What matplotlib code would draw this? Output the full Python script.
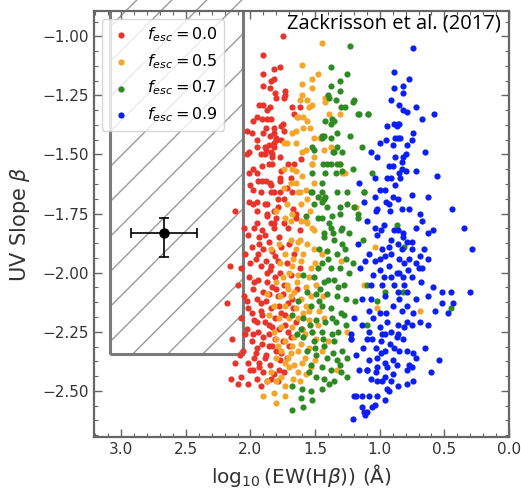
import matplotlib
matplotlib.use("Agg")
import matplotlib.pyplot as plt
import numpy as np
from matplotlib.patches import Rectangle
from matplotlib.ticker import MultipleLocator, AutoMinorLocator

# ---------------- data ----------------
red_pts = [
    (1.75,-1.00),(1.90,-1.08),(1.82,-1.14),(1.77,-1.13),(1.90,-1.16),(1.82,-1.18),(1.90,-1.21),
    (1.85,-1.22),(1.81,-1.24),(1.73,-1.23),(1.73,-1.25),(1.80,-1.26),(1.93,-1.29),(1.90,-1.29),
    (1.85,-1.30),(1.87,-1.31),(1.68,-1.30),(1.62,-1.30),(1.95,-1.34),(1.87,-1.35),(1.98,-1.36),
    (1.84,-1.35),(1.75,-1.37),(1.66,-1.33),(1.84,-1.19),(1.74,-1.26),(1.91,-1.35),(1.88,-1.39),
    (1.82,-1.39),(1.76,-1.38),(1.74,-1.40),(1.80,-1.43),(1.76,-1.44),(1.89,-1.47),(1.82,-1.47),
    (1.83,-1.50),(1.77,-1.51),(1.71,-1.54),(1.83,-1.54),(1.91,-1.61),(1.85,-1.62),(1.77,-1.60),
    (1.72,-1.64),(1.82,-1.66),(1.89,-1.71),(1.79,-1.72),(1.74,-1.69),(1.65,-1.75),(1.87,-1.76),
    (1.82,-1.79),(1.71,-1.81),
    (2.01,-1.49),(2.03,-1.50),(1.92,-1.50),(1.89,-1.50),(1.83,-1.51),(1.88,-1.48),(1.84,-1.49),
    (1.82,-1.45),(1.86,-1.46),(1.80,-1.44),(1.95,-1.44),(1.90,-1.41),(1.82,-1.41),(1.99,-1.41),
    (2.03,-1.40),(1.86,-1.54),(1.98,-1.56),(2.01,-1.58),(1.95,-1.58),(1.76,-1.57),(1.66,-1.54),
    (1.61,-1.52),(1.94,-1.61),(1.88,-1.61),(1.77,-1.61),(2.00,-1.63),(1.84,-1.63),(1.92,-1.66),
    (1.84,-1.66),(1.77,-1.66),(1.68,-1.66),(2.01,-1.70),(1.95,-1.70),(1.98,-1.71),(1.87,-1.71),
    (1.67,-1.73),(1.82,-1.74),(1.95,-1.74),(1.87,-1.75),(1.80,-1.77),(1.84,-1.79),(1.95,-1.79),
    (1.97,-1.81),(1.91,-1.82),(1.82,-1.81),(1.74,-1.79),(1.65,-1.77),(2.12,-1.74),(1.62,-1.82),
    (2.05,-1.81),
    (2.02,-1.84),(1.93,-1.85),(1.86,-1.87),(1.78,-1.85),(1.70,-1.88),(1.99,-1.89),(1.90,-1.90),
    (1.83,-1.91),(1.76,-1.89),(1.66,-1.92),(2.04,-1.92),(1.96,-1.94),(1.88,-1.95),(1.81,-1.93),
    (1.72,-1.96),(2.16,-1.97),(2.07,-1.98),(1.92,-1.97),(1.85,-1.99),(1.77,-2.00),(1.69,-2.01),
    (2.01,-2.02),(1.94,-2.03),(1.87,-2.04),(1.81,-2.02),(1.74,-2.05),(2.10,-2.05),(1.98,-2.07),
    (1.90,-2.08),(1.83,-2.06),(1.64,-2.07),(2.05,-2.10),(1.95,-2.11),(1.88,-2.12),(1.79,-2.10),
    (1.71,-2.13),(2.18,-2.13),(2.02,-2.15),(1.92,-2.16),(1.84,-2.15),(1.76,-2.17),(1.67,-2.15),
    (2.07,-2.19),(1.97,-2.20),(1.89,-2.21),(1.81,-2.19),(1.73,-2.22),(2.03,-2.24),(1.94,-2.25),
    (1.86,-2.26),(1.78,-2.24),(1.69,-2.27),(2.14,-2.28),(1.99,-2.29),(1.91,-2.30),(1.83,-2.31),
    (1.75,-2.29),(2.06,-2.33),(1.96,-2.34),(1.88,-2.35),(1.80,-2.33),(1.72,-2.36),(2.02,-2.38),
    (1.93,-2.38),(1.85,-2.39),(1.77,-2.37),(2.12,-2.38),(1.98,-2.41),(1.90,-2.42),(1.82,-2.43),
    (2.07,-2.44),(1.95,-2.45),(1.87,-2.46),(2.15,-2.45),(2.02,-2.47),(1.92,-2.48),(2.10,-2.47),
    (1.79,-2.46),(1.97,-2.36),(1.86,-2.22),(1.75,-2.09),(1.99,-2.17),(1.90,-2.27),(2.00,-1.96),
    (1.62,-1.98),(1.70,-2.31),(1.65,-2.21),(1.78,-2.41),(1.95,-2.32),(1.84,-1.97),(1.92,-2.13),
    (2.04,-2.26),(1.81,-2.28),(1.73,-2.18),(1.97,-2.04),(1.89,-2.36),(1.68,-2.11),(2.08,-2.35),
    (1.86,-2.09),(1.95,-2.21),(1.79,-1.95),(2.00,-2.41),(1.74,-2.42),(1.93,-1.88),(1.60,-2.24),
    (1.94,-1.92),(1.87,-2.00),(1.80,-2.07),(2.03,-2.12),(1.91,-2.18),(1.83,-2.23),(1.98,-2.26),
    (1.86,-2.31),(1.76,-2.34),(1.93,-2.40),(1.84,-2.45),(1.71,-2.25),(1.78,-2.14),(1.89,-1.84),
    (1.98,-1.65),(1.91,-1.55),(1.79,-1.69),(1.69,-1.60),(1.85,-1.42),(1.95,-1.47),
]

orange_pts = [
    (1.45,-1.03),(1.60,-1.12),(1.48,-1.16),(1.52,-1.18),(1.60,-1.20),(1.52,-1.22),(1.60,-1.25),
    (1.56,-1.27),(1.52,-1.29),(1.42,-1.26),(1.42,-1.28),(1.64,-1.34),(1.59,-1.34),(1.39,-1.33),
    (1.31,-1.33),(1.56,-1.36),(1.62,-1.27),(1.55,-1.30),(1.63,-1.34),(1.59,-1.39),(1.54,-1.39),
    (1.68,-1.41),(1.51,-1.43),(1.72,-1.45),(1.65,-1.45),(1.60,-1.49),(1.51,-1.51),(1.46,-1.43),
    (1.38,-1.47),(1.68,-1.56),(1.60,-1.59),(1.52,-1.54),(1.65,-1.62),(1.51,-1.62),(1.62,-1.66),
    (1.56,-1.69),(1.31,-1.54),(1.27,-1.58),(1.18,-1.72),(1.68,-1.75),(1.57,-1.78),(1.51,-1.82),
    (1.62,-1.86),(1.74,-1.45),(1.57,-1.48),(1.52,-1.54),(1.74,-1.56),(1.65,-1.57),(1.69,-1.62),
    (1.74,-1.64),(1.63,-1.66),(1.57,-1.65),(1.80,-1.74),(1.72,-1.71),(1.61,-1.71),(1.73,-1.77),
    (1.69,-1.78),(1.56,-1.79),(1.52,-1.81),(1.61,-1.78),(1.65,-1.40),(1.43,-1.48),(1.29,-1.58),
    (1.20,-1.72),
    (1.84,-1.90),(1.78,-1.88),(1.69,-1.86),(1.63,-1.87),(1.56,-1.88),(1.73,-1.92),(1.65,-1.90),
    (1.59,-1.92),(1.51,-1.90),(1.45,-1.92),(1.77,-1.96),(1.68,-1.97),(1.61,-1.95),(1.53,-1.98),
    (1.70,-2.00),(1.63,-2.01),(1.55,-2.02),(1.80,-2.04),(1.72,-2.05),(1.64,-2.04),(1.57,-2.06),
    (1.49,-2.05),(1.87,-2.09),(1.77,-2.10),(1.69,-2.10),(1.61,-2.11),(1.53,-2.10),(1.82,-2.14),
    (1.73,-2.14),(1.65,-2.15),(1.57,-2.14),(1.47,-2.16),(1.86,-2.18),(1.78,-2.19),(1.70,-2.19),
    (1.63,-2.19),(1.55,-2.20),(1.43,-2.19),(1.76,-2.23),(1.68,-2.23),(1.60,-2.24),(1.82,-2.25),
    (1.52,-2.25),(1.80,-2.28),(1.73,-2.29),(1.68,-2.31),(1.61,-2.30),(1.55,-2.32),(1.76,-2.33),
    (1.69,-2.34),(1.63,-2.33),(1.80,-2.36),(1.73,-2.38),(1.66,-2.39),(1.60,-2.38),(1.53,-2.40),
    (1.70,-2.40),(1.63,-2.42),(1.57,-2.43),(1.84,-2.42),(1.87,-2.46),(1.80,-2.46),(1.73,-2.48),
    (1.76,-2.44),(1.33,-2.41),(1.45,-2.33),(1.90,-2.52),(1.80,-2.55),(1.82,-2.51),(1.73,-2.52),
    (1.66,-2.27),(1.58,-2.36),(1.49,-2.28),(1.71,-2.07),(1.59,-2.17),(1.67,-2.45),(1.50,-2.37),
    (1.75,-2.02),(1.66,-2.08),(1.58,-2.26),(1.71,-2.36),(1.62,-2.46),(1.55,-2.16),(1.48,-2.22),
    (1.79,-2.31),(1.67,-1.94),(1.50,-1.96),(1.44,-2.10),(1.40,-2.29),(1.54,-1.74),(1.47,-1.68),
    (1.04,-1.89),(0.69,-2.16),(1.02,-2.15),(1.12,-2.05),(1.25,-2.25),(1.30,-1.95),
]

green_pts = [
    (1.23,-1.04),(1.38,-1.13),(1.25,-1.16),(1.31,-1.19),(1.38,-1.21),(1.31,-1.23),(1.39,-1.26),
    (1.27,-1.30),(1.20,-1.27),(1.21,-1.28),(1.16,-1.33),(1.09,-1.33),(1.35,-1.36),(1.38,-1.37),
    (1.33,-1.41),(1.45,-1.43),(1.38,-1.43),(1.14,-1.47),(1.33,-1.47),(1.36,-1.49),(1.52,-1.47),
    (1.29,-1.49),(1.38,-1.54),(1.33,-1.54),(1.29,-1.57),(1.44,-1.54),(1.53,-1.66),(1.48,-1.68),
    (1.42,-1.68),(1.33,-1.66),(1.25,-1.66),(1.12,-1.66),(1.45,-1.70),(1.41,-1.72),(1.31,-1.75),
    (1.25,-1.71),(1.48,-1.77),(1.39,-1.79),(1.29,-1.81),(1.24,-1.83),(1.13,-1.86),(1.43,-1.83),
    (1.40,-1.25),(1.34,-1.27),(1.30,-1.30),(1.42,-1.36),(1.37,-1.35),(1.17,-1.33),
    (1.45,-1.42),(1.43,-1.42),(1.23,-1.42),(1.51,-1.48),(1.35,-1.49),(1.31,-1.54),(1.41,-1.54),
    (1.52,-1.58),(1.42,-1.58),(1.34,-1.58),(1.21,-1.56),(1.45,-1.62),(1.52,-1.66),(1.45,-1.66),
    (1.51,-1.71),(1.43,-1.69),(1.31,-1.72),(1.20,-1.72),(1.57,-1.76),(1.45,-1.77),(1.37,-1.76),
    (1.17,-1.75),(1.17,-1.77),(1.38,-1.81),(1.30,-1.82),
    (1.43,-1.85),(1.35,-1.86),(1.29,-1.88),(1.47,-1.90),(1.41,-1.91),(1.33,-1.92),(1.26,-1.94),
    (1.45,-1.96),(1.38,-1.98),(1.31,-1.98),(1.24,-2.00),(1.59,-2.01),(1.51,-2.02),(1.43,-2.04),
    (1.35,-2.03),(1.28,-2.05),(1.56,-2.08),(1.49,-2.09),(1.41,-2.09),(1.33,-2.10),(1.26,-2.11),
    (1.63,-2.12),(1.53,-2.14),(1.45,-2.14),(1.38,-2.15),(1.30,-2.17),(1.68,-2.18),(1.59,-2.19),
    (1.49,-2.20),(1.42,-2.21),(1.34,-2.21),(1.26,-2.22),(1.61,-2.24),(1.52,-2.25),(1.45,-2.25),
    (1.37,-2.26),(1.64,-2.26),(1.59,-2.27),(1.51,-2.29),(1.43,-2.31),(1.35,-2.29),(1.29,-2.33),
    (1.56,-2.33),(1.49,-2.35),(1.41,-2.36),(1.33,-2.37),(1.25,-2.36),(1.53,-2.39),(1.45,-2.40),
    (1.38,-2.41),(1.30,-2.42),(1.49,-2.44),(1.43,-2.45),(1.35,-2.46),(1.68,-2.48),(1.60,-2.49),
    (1.53,-2.50),(1.45,-2.49),(1.39,-2.47),(1.61,-2.53),(1.52,-2.54),(1.59,-2.57),(1.68,-2.58),
    (1.25,-2.44),(1.21,-1.96),(1.19,-2.12),(1.47,-2.12),(1.36,-2.34),(1.55,-2.42),(1.32,-2.06),
    (1.40,-1.94),(1.22,-2.28),(1.48,-1.98),(1.28,-2.18),(1.37,-2.19),(1.44,-2.28),(1.31,-2.39),
    (1.50,-2.32),(1.40,-2.03),(1.27,-1.90),(1.36,-1.83),(1.54,-2.22),(1.46,-2.07),(1.32,-2.25),
    (1.10,-2.05),(0.96,-2.08),(1.02,-2.12),(0.82,-2.08),(0.81,-1.89),(1.10,-2.22),(0.45,-2.15),
    (1.06,-1.58),(0.87,-1.80),(1.12,-1.66),(1.09,-1.33),
]

blue_pts = [
    (0.74,-1.05),(0.89,-1.15),(0.77,-1.18),(0.82,-1.21),(0.89,-1.22),(0.82,-1.24),(0.91,-1.27),
    (0.85,-1.29),(0.82,-1.31),(0.79,-1.32),(0.72,-1.30),(0.67,-1.35),(0.58,-1.33),(0.94,-1.38),
    (0.89,-1.37),(0.86,-1.37),(0.85,-1.37),(0.87,-1.38),
    (0.86,-1.43),(0.84,-1.43),(0.74,-1.41),(0.75,-1.44),(1.00,-1.45),(0.95,-1.44),(0.88,-1.43),
    (0.90,-1.46),(0.79,-1.46),(0.65,-1.49),(1.07,-1.49),(1.02,-1.51),(0.88,-1.51),(0.80,-1.50),
    (0.82,-1.51),(0.83,-1.53),(0.93,-1.55),(0.90,-1.55),(0.83,-1.56),(0.80,-1.57),(0.72,-1.57),
    (0.85,-1.58),(1.04,-1.60),(0.94,-1.60),(0.91,-1.60),(0.84,-1.60),(0.56,-1.59),(1.00,-1.65),
    (0.96,-1.65),(1.04,-1.68),(0.90,-1.68),(0.86,-1.69),(0.75,-1.67),(0.63,-1.68),(0.95,-1.70),
    (0.93,-1.71),(1.02,-1.73),(1.03,-1.74),(0.92,-1.74),(0.83,-1.73),(0.77,-1.73),(0.69,-1.75),
    (0.44,-1.73),(1.10,-1.78),(0.97,-1.80),(0.99,-1.82),(1.04,-1.81),(0.89,-1.82),(0.86,-1.82),
    (0.82,-1.83),(0.72,-1.81),(0.67,-1.78),(0.63,-1.83),(0.59,-1.82),(0.35,-1.81),
    (1.02,-1.84),(0.91,-1.86),(0.82,-1.85),(0.79,-1.87),(0.75,-1.87),(0.98,-1.90),(0.93,-1.89),
    (0.86,-1.88),(0.83,-1.90),(0.75,-1.90),(0.66,-1.90),(1.08,-1.92),(1.00,-1.94),(0.96,-1.93),
    (0.91,-1.92),(0.85,-1.94),(0.77,-1.94),(0.69,-1.93),(0.63,-1.94),(1.04,-1.95),(0.93,-1.97),
    (0.81,-1.96),(0.72,-1.96),(0.70,-1.98),(0.67,-1.98),(1.00,-1.99),(0.87,-2.00),(0.85,-2.00),
    (0.97,-2.02),(0.91,-2.02),(0.82,-2.02),(0.75,-2.02),(1.07,-2.05),(0.98,-2.05),(0.89,-2.05),
    (0.81,-2.05),(0.68,-2.04),(0.59,-2.06),(0.45,-2.08),(0.52,-2.08),(0.30,-2.08),(0.86,-2.08),
    (0.79,-2.08),(0.72,-2.11),(0.63,-2.10),(0.96,-2.10),(1.07,-2.11),(0.85,-2.11),(0.90,-2.14),
    (0.79,-2.14),(0.52,-2.13),(0.43,-2.13),(1.08,-2.16),(1.00,-2.17),(0.95,-2.17),(0.83,-2.16),
    (0.74,-2.17),(0.47,-2.17),(0.57,-2.16),(0.94,-2.21),(0.86,-2.22),(0.79,-2.21),(0.75,-2.22),
    (0.69,-2.21),(0.63,-2.22),(1.08,-2.25),(1.00,-2.23),(0.91,-2.25),(0.81,-2.23),(0.96,-2.26),
    (0.86,-2.26),(0.29,-1.90),
    (1.10,-2.28),(1.06,-2.28),(0.98,-2.26),(0.87,-2.27),(0.82,-2.28),(1.03,-2.32),(0.99,-2.34),
    (0.96,-2.33),(0.89,-2.32),(0.85,-2.33),(0.79,-2.33),(0.74,-2.34),(0.72,-2.36),(0.65,-2.32),
    (0.54,-2.37),(1.08,-2.37),(1.02,-2.36),(0.96,-2.38),(0.90,-2.37),(0.87,-2.39),(0.77,-2.39),
    (1.02,-2.40),(0.94,-2.40),(0.79,-2.41),(0.75,-2.40),(0.60,-2.42),(1.10,-2.41),(1.03,-2.42),
    (0.96,-2.44),(0.90,-2.43),(1.02,-2.46),(0.98,-2.46),(0.91,-2.46),(0.79,-2.47),(0.74,-2.46),
    (0.94,-2.49),(0.86,-2.48),(0.93,-2.50),(1.02,-2.52),(0.96,-2.54),(1.08,-2.52),(1.04,-2.56),
    (1.06,-2.57),(1.10,-2.59),
    (1.22,-2.28),(1.16,-2.41),(1.10,-2.41),(1.20,-2.52),(1.14,-2.52),(1.14,-2.57),(1.21,-2.62),
    (1.12,-2.59),(1.11,-2.60),(1.18,-2.52),(1.17,-1.88),(1.14,-2.11),(1.20,-2.19),(1.14,-2.22),
    (1.22,-2.26),(1.15,-1.98),(1.18,-2.35),(1.12,-1.70),(1.16,-1.62),(1.05,-2.01),(1.11,-1.95),
    (1.05,-2.19),(0.99,-2.29),(1.13,-2.32),(1.07,-2.45),(0.92,-2.30),(0.78,-1.99),(0.88,-1.63),
]

series_labels = [r"$f_{esc}=0.0$", r"$f_{esc}=0.5$", r"$f_{esc}=0.7$", r"$f_{esc}=0.9$"]
series_colors = ["#e8352b", "#f5a52a", "#2e8a22", "#0a1ef5"]

obs_x, obs_y = 2.67, -1.83
obs_xerr = 0.255
obs_yerr_lo, obs_yerr_hi = 0.105, 0.06

rect_x = (3.09, 2.06)
rect_y = (-2.345, -0.5)

# ---------------- figure ----------------
fig = plt.figure(figsize=(5.21, 4.95), dpi=100)
ax = fig.add_axes([94/521, 58/495, (509-94)/521, (437-11)/495])

for pts, col, lab in zip([red_pts, orange_pts, green_pts, blue_pts], series_colors, series_labels):
    a = np.array(pts)
    ax.scatter(a[:, 0], a[:, 1], s=20, color=col, linewidths=0, label=lab, zorder=2)

ax.set_xlim(3.21, 0.0)
ax.set_ylim(-2.695, -0.893)
ax.set_autoscale_on(False)

rect = Rectangle((rect_x[0], rect_y[0]), rect_x[1] - rect_x[0], rect_y[1] - rect_y[0],
                 fill=False, edgecolor="#7a7a7a", linewidth=2.2, zorder=1.5)
ax.add_patch(rect)

# wide diagonal hatching (display-space 45 deg lines), clipped to the rectangle
p0 = ax.transData.transform((rect_x[0], rect_y[0]))
p1 = ax.transData.transform((rect_x[1], rect_y[1]))
xmin, xmax = p0[0], p1[0]
ymin, ymax = p0[1], p1[1]
step = 35.0
c0 = ymin - (xmin + 23)
inv = ax.transData.inverted()
c = c0
while c > ymin - xmax - step:
    c -= step
while c < ymax - xmin + step:
    d = inv.transform([(xmin - 5, xmin - 5 + c), (xmax + 5, xmax + 5 + c)])
    ln, = ax.plot(d[:, 0], d[:, 1], color="#9a9a9a", lw=1.0, zorder=1)
    ln.set_clip_path(rect)
    c += step

ax.errorbar([obs_x], [obs_y], xerr=[[obs_xerr], [obs_xerr]], yerr=[[obs_yerr_lo], [obs_yerr_hi]],
            fmt="o", color="black", markersize=6.5, capsize=3.5, elinewidth=1.2, capthick=1.2, zorder=3)

ax.xaxis.set_major_locator(MultipleLocator(0.5))
ax.xaxis.set_minor_locator(MultipleLocator(0.1))
ax.yaxis.set_major_locator(MultipleLocator(0.25))
ax.yaxis.set_minor_locator(AutoMinorLocator(4))

ax.tick_params(which="both", direction="in", top=True, right=True, color="#666666",
               labelcolor="#333333", labelsize=11)
ax.tick_params(which="major", length=6, width=1.0)
ax.tick_params(which="minor", length=3, width=0.8)
for s in ax.spines.values():
    s.set_color("#666666")
    s.set_linewidth(1.6)

ax.set_xlabel(r"$\log_{10}$(EW(H$\beta$)) (Å)", fontsize=14.5, color="#333333", labelpad=4)
ax.set_ylabel(r"UV Slope $\beta$", fontsize=15, color="#333333", labelpad=8)

leg = ax.legend(loc="upper left", fontsize=11.5, scatterpoints=1, handlelength=1.6,
                framealpha=0.8, edgecolor="#cccccc", borderaxespad=0.5)

fig.text(501/521, 1 - 13/495, "Zackrisson et al. (2017)", ha="right", va="top",
         fontsize=14.5, family=["Open Sans", "DejaVu Sans"], color="black")

fig.savefig("out.png", dpi=100)
